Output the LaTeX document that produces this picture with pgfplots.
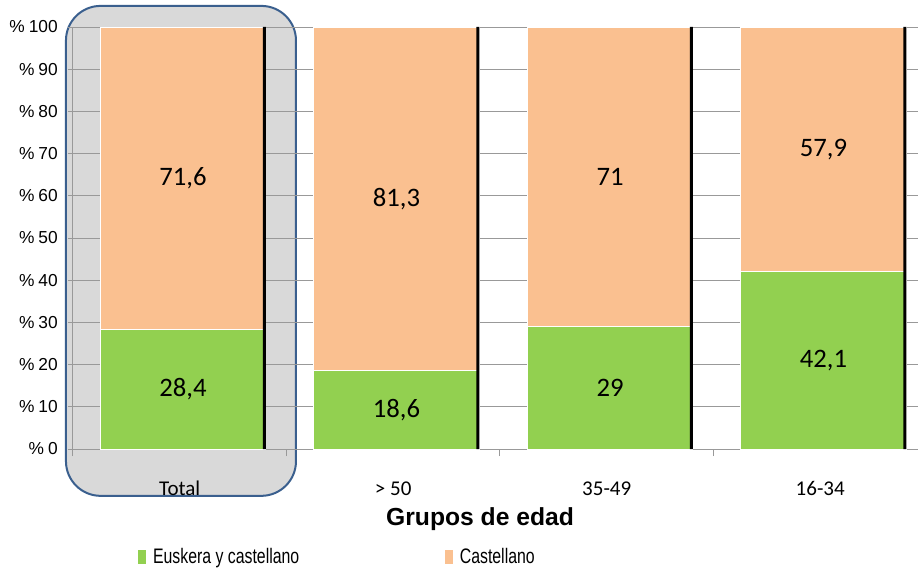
\documentclass[border=0pt]{standalone}
\usepackage{pgfplots}
\pgfplotsset{compat=1.18}
\usepackage{fontspec}
\setmainfont{Carlito}
\newfontfamily\arial{Liberation Sans}
\definecolor{verde}{HTML}{92D050}
\definecolor{naranja}{HTML}{FAC090}
\definecolor{caja}{HTML}{D9D9D9}
\definecolor{borde}{HTML}{3A5F8E}
\definecolor{rejilla}{HTML}{999999}

% 1px = 0.75pt; plot area 845 x 422 px
\pgfplotsset{base/.style={
  at={(0,0)}, anchor=south west, scale only axis,
  width=633.75pt, height=316.5pt,
  xmin=-0.5, xmax=3.458, ymin=0, ymax=100, clip=false}}

\begin{document}
\begin{tikzpicture}
\useasboundingbox (-54.75pt,-92.25pt) rectangle (633.75pt,336.75pt);

% highlight box behind "Total"
\begin{axis}[base, hide axis]
\draw[borde, line width=1.5pt, fill=caja, rounded corners=26pt]
  (axis cs:-0.533,-11.1) rectangle (axis cs:0.5445,105);
\end{axis}

\begin{axis}[base,
  ybar stacked, bar width=0.775, bar shift=0.0155,
  axis x line*=bottom, axis y line*=left,
  axis line style={rejilla, line width=0.75pt},
  ymajorgrids, grid style={rejilla, line width=0.75pt},
  ytick={0,10,...,100},
  yticklabel={\%\hspace{3pt}\pgfmathprintnumber[assume math mode=true]{\tick}},
  yticklabel style={font=\arial\fontsize{13}{15}\selectfont, inner sep=0pt, xshift=-7.5pt},
  ytick align=outside, ytick style={rejilla, line width=0.75pt}, major tick length=3.75pt,
  xtick={0,1,2,3},
  xticklabels={Total,{> 50},35-49,16-34},
  xtick style={draw=none},
  xticklabel style={font=\fontsize{15.75}{18}\selectfont, inner sep=0pt, anchor=base, yshift=-34.5pt},
  extra x ticks={-0.5,0.5,1.5,2.5},
  extra x tick labels={},
  extra x tick style={tick align=outside, major tick length=5.25pt,
    xtick style={rejilla, line width=0.75pt, draw=rejilla}},
  xlabel={Grupos de edad},
  every axis x label/.style={at={(axis description cs:0.4817,0)}, anchor=center,
    yshift=-52.5pt, font=\arial\bfseries\fontsize{18.5}{21}\selectfont},
  visualization depends on={rawy \as \rawy},
  nodes near coords={\pgfmathprintnumber[assume math mode=true, use comma]{\rawy}},
  every node near coord/.append style={font=\fontsize{20}{24}\selectfont, black,
    anchor=center},
  legend columns=2,
  legend cell align=left,
  legend image code/.code={\fill (0pt,-5.6pt) rectangle (6.75pt,5.6pt);},
  legend style={draw=none, fill=none, at={(axis description cs:0.0757,0)},
    anchor=west, yshift=-81pt, inner sep=0pt, column sep=0pt,
    nodes={inner sep=0pt, anchor=west},
    font=\arial\fontsize{15.75}{18}\selectfont},
]
\addplot[fill=verde, draw=white, line width=0.6pt] coordinates {(0,28.4) (1,18.6) (2,29) (3,42.1)};
\addlegendentry{\hspace{4.5pt}\makebox[218.25pt][l]{\scalebox{0.755}[1]{Euskera y castellano}}}
\addplot[fill=naranja, draw=white, line width=0.6pt] coordinates {(0,71.6) (1,81.3) (2,71) (3,57.9)};
\addlegendentry{\hspace{4.5pt}\scalebox{0.755}[1]{Castellano}}
\end{axis}

% dark right edge of each bar
\begin{axis}[base, hide axis, ybar, bar width=0.014, bar shift=0.396]
\addplot[fill=black, draw=none] coordinates {(0,100) (1,100) (2,100) (3,100)};
\end{axis}
\end{tikzpicture}
\end{document}
